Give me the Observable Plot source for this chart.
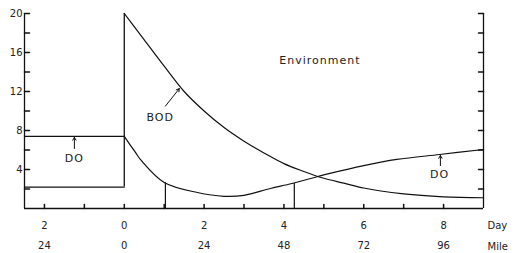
<!DOCTYPE html>
<html><head><meta charset="utf-8">
<script src="https://cdn.jsdelivr.net/npm/d3@7"></script>
<script src="https://cdn.jsdelivr.net/npm/@observablehq/plot@0.6"></script>
<style>body{margin:0;background:#fff} .lbl text{letter-spacing:1px}</style>
</head><body><div id="chart"></div>
<script>
// upstream section (days before outfall)
const upDays = [-2.5, 0];
const upDO = [7.4, 7.4];
const upBOD = [2.2, 2.2];
// downstream BOD
const bodDays = [0, 0.5, 1.0, 1.5, 2.0, 2.5, 3.0, 3.5, 4.0, 4.5, 5.0, 5.5, 6.0, 7.0, 8.0, 9.0];
const bodValues = [20, 17.3, 14.6, 12.0, 10.0, 8.3, 6.9, 5.7, 4.6, 3.8, 3.1, 2.6, 2.1, 1.5, 1.2, 1.1];
// downstream DO
const doDays = [0, 0.28, 0.43, 1.0, 1.83, 2.5, 3.0, 3.66, 4.2, 4.85, 5.15, 6.0, 6.83, 7.9, 9];
const doValues = [7.4, 5.75, 4.9, 2.67, 1.64, 1.25, 1.35, 2.05, 2.56, 3.28, 3.6, 4.4, 5.03, 5.54, 6.05];
// vertical markers
const markerDays = [1.03, 4.26];
const markerTops = [2.65, 2.56];
// axes
const dayDomain = [-2.5, 9];
const valueDomain = [0, 20];
const yTicks = [2, 4, 6, 8, 10, 12, 14, 16, 18, 20];
const yLabels = [4, 8, 12, 16, 20];
const xTicks = [-2, -1, 0, 1, 2, 3, 4, 5, 6, 7, 8];
const dayTickValues = [-2, 0, 2, 4, 6, 8];
const dayTickLabels = ["2", "0", "2", "4", "6", "8"];
const mileTickLabels = ["24", "0", "24", "48", "72", "96"];
// annotations
const annotations = [
  {text: "DO", x: -1.25, y: 5.1, ax1: -1.25, ay1: 6.15, ax2: -1.25, ay2: 7.3},
  {text: "BOD", x: 0.9, y: 9.3, ax1: 1.03, ay1: 10.5, ax2: 1.38, ay2: 12.3},
  {text: "DO", x: 7.9, y: 3.5, ax1: 7.92, ay1: 4.4, ax2: 7.92, ay2: 5.44}
];
const title = [{text: "Environment", x: 4.9, y: 15.2}];

const tickRight = {draw(ctx, l) { ctx.moveTo(0, 0); ctx.lineTo(l, 0); }};
const tickLeft = {draw(ctx, l) { ctx.moveTo(0, 0); ctx.lineTo(-l, 0); }};
const tickUp = {draw(ctx, l) { ctx.moveTo(0, 0); ctx.lineTo(0, -l); }};

const up = upDays.map((d, i) => ({day: d, DO: upDO[i], BOD: upBOD[i]}));
const bod = bodDays.map((d, i) => ({day: d, v: bodValues[i]}));
const dox = doDays.map((d, i) => ({day: d, v: doValues[i]}));
const markers = markerDays.map((d, i) => ({day: d, top: markerTops[i]}));
const dayLab = dayTickValues.map((d, i) => ({day: d, day_t: dayTickLabels[i], mile_t: mileTickLabels[i]}));

const ink = "#111";
const txt = "#222";

const chart = Plot.plot({
  width: 522, height: 253,
  marginLeft: 24, marginRight: 39, marginTop: 13, marginBottom: 45,
  x: {domain: dayDomain, axis: null},
  y: {domain: valueDomain, axis: null},
  style: {fontFamily: "'DejaVu Sans', sans-serif", fontSize: "10px", background: "#fff", color: ink},
  marks: [
    // frame
    Plot.ruleX([dayDomain[0], dayDomain[1]], {y1: valueDomain[0], y2: valueDomain[1], stroke: ink, strokeWidth: 1.3}),
    Plot.ruleY([valueDomain[0]], {x1: dayDomain[0], x2: dayDomain[1], stroke: ink, strokeWidth: 1.3}),
    Plot.vector(yTicks, {x: () => dayDomain[0], y: d => d, length: 5, anchor: "start", shape: tickRight, stroke: ink}),
    Plot.vector(yTicks, {x: () => dayDomain[1], y: d => d, length: 5, anchor: "start", shape: tickLeft, stroke: ink}),
    Plot.vector(xTicks, {x: d => d, y: () => valueDomain[0], length: 4, anchor: "start", shape: tickUp, stroke: ink}),
    Plot.text(yLabels, {x: () => dayDomain[0], y: d => d, text: d => String(d), textAnchor: "end", dx: -2, fill: txt}),
    Plot.text(dayLab, {x: "day", y: () => valueDomain[0], text: "day_t", dy: 17, fill: txt}),
    Plot.text(dayLab, {x: "day", y: () => valueDomain[0], text: "mile_t", dy: 37, fill: txt}),
    Plot.text(["Day"], {x: () => dayDomain[1], y: () => valueDomain[0], text: d => d, dy: 17, dx: 4, textAnchor: "start", fill: txt}),
    Plot.text(["Mile"], {x: () => dayDomain[1], y: () => valueDomain[0], text: d => d, dy: 38, dx: 4, textAnchor: "start", fill: txt}),
    // upstream box
    Plot.line(up, {x: "day", y: "DO", stroke: ink, strokeWidth: 1.3}),
    Plot.line(up, {x: "day", y: "BOD", stroke: ink, strokeWidth: 1.3}),
    Plot.ruleX([upDays[1]], {y1: upBOD[1], y2: bodValues[0], stroke: ink, strokeWidth: 1.3}),
    // curves
    Plot.line(bod, {x: "day", y: "v", curve: "monotone-x", stroke: ink, strokeWidth: 1.2}),
    Plot.line(dox, {x: "day", y: "v", curve: "catmull-rom", stroke: ink, strokeWidth: 1.2}),
    Plot.ruleX(markers, {x: "day", y1: valueDomain[0], y2: "top", stroke: ink, strokeWidth: 1.2}),
    // annotations
    Plot.arrow(annotations, {x1: "ax1", y1: "ay1", x2: "ax2", y2: "ay2", stroke: ink, strokeWidth: 1, headLength: 5}),
    Plot.text(annotations, {x: "x", y: "y", text: "text", fill: txt, fontSize: 11, className: "lbl"}),
    Plot.text(title, {x: "x", y: "y", text: "text", fill: txt, fontSize: 11, className: "lbl"})
  ]
});
document.getElementById("chart").appendChild(chart);
</script></body></html>
